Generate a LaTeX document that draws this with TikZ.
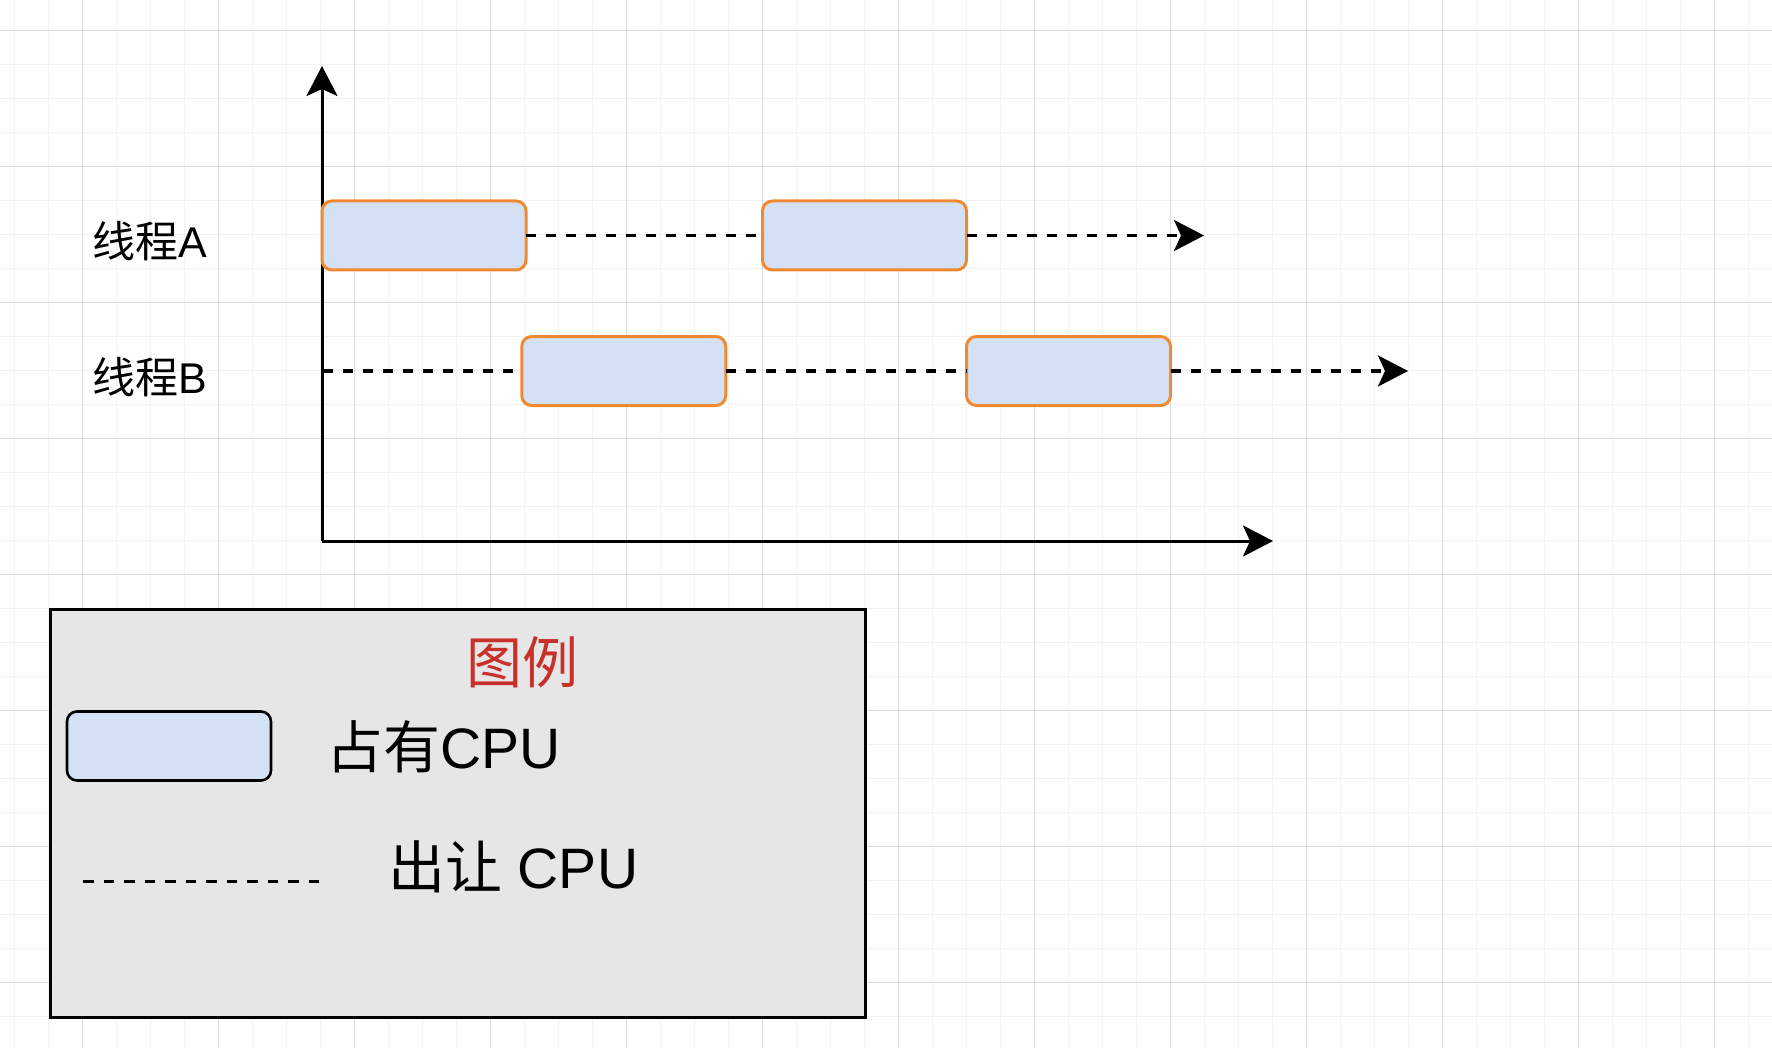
\documentclass[tikz,border=0pt]{standalone}
\usepackage{fontspec}
\setmainfont{Liberation Sans}
\newfontfamily\cjk{Noto Sans CJK SC}
\usetikzlibrary{arrows.meta}
\definecolor{gridminor}{HTML}{F2F2F2}
\definecolor{gridmajor}{HTML}{DADADA}
\definecolor{boxfill}{HTML}{D4E1F5}
\definecolor{boxline}{HTML}{F08A32}
\definecolor{legfill}{HTML}{E6E6E6}
\definecolor{legred}{HTML}{C8302A}
\tikzset{
  cpubox/.style={draw=boxline, fill=boxfill, line width=1.5pt, rounded corners=5pt,
    minimum width=102pt, minimum height=34.5pt, inner sep=0pt, outer sep=0pt},
  legbox/.style={cpubox, draw=black, line width=1.3pt},
  yieldline/.style={line width=1.7pt, dash pattern=on 5pt off 5pt},
  axisline/.style={line width=1.5pt},
  tipstyle/.style={-{Stealth[length=15pt, width=15.5pt, inset=3.5pt]}},
  lbl/.style={inner sep=0pt, outer sep=0pt, anchor=west, font=\fontsize{21.5pt}{26pt}\selectfont},
  bigtxt/.style={inner sep=0pt, outer sep=0pt, font=\fontsize{28.5pt}{32pt}\selectfont}
}
\begin{document}
\begin{tikzpicture}[x=0.5pt, y=-0.5pt]
\useasboundingbox (0,0) rectangle (1772,1048);
\clip (0,0) rectangle (1772,1048);
\fill[white] (0,0) rectangle (1772,1048);
% grid
\foreach \i in {0,...,52} {
  \draw[gridminor, line width=0.75pt] ({14.7+34*\i},0) -- ({14.7+34*\i},1048);
}
\foreach \i in {0,...,31} {
  \draw[gridminor, line width=0.75pt] (0,{-3.3+34*\i}) -- (1772,{-3.3+34*\i});
}
\foreach \i in {0,...,12} {
  \draw[gridmajor, line width=0.75pt] ({82.7+136*\i},0) -- ({82.7+136*\i},1048);
}
\foreach \i in {0,...,7} {
  \draw[gridmajor, line width=0.75pt] (0,{30.7+136*\i}) -- (1772,{30.7+136*\i});
}
% axes
\coordinate (O) at (322,541);
\coordinate (ytip) at (322,66);
\coordinate (xtip) at (1273,541);
\draw[axisline, tipstyle] (O) -- (ytip);
\draw[axisline, tipstyle] (O) -- (xtip);
% thread labels
\node[lbl] (la) at (92,241) {{\cjk 线程}A};
\node[lbl] (lb) at (92,377) {{\cjk 线程}B};
% boxes
\node[cpubox] (b1) at (424,235.5) {};
\node[cpubox] (b2) at (864.5,235.5) {};
\node[cpubox] (b3) at (623.75,371) {};
\node[cpubox] (b4) at (1068.5,371) {};
\coordinate (tipA) at (1204,235.5);
\coordinate (startB) at (323,371);
\coordinate (tipB) at (1408,371);
\draw[yieldline] (b1.east) -- (b2.west);
\draw[yieldline, tipstyle] (b2.east) -- (tipA);
\draw[yieldline] (startB) -- (b3.west);
\draw[yieldline] (b3.east) -- (b4.west);
\draw[yieldline, tipstyle] (b4.east) -- (tipB);
% legend
\node[draw=black, fill=legfill, line width=1.5pt, minimum width=407.85pt, minimum height=204pt,
  inner sep=0pt] (legend) at (457.85,813) {};
\node[bigtxt, text=legred, font=\cjk\fontsize{28pt}{32pt}\selectfont] (title) at (522,662) {图例};
\node[legbox] (sample) at (169,746) {};
\node[bigtxt, anchor=west] (occ) at (326,747) {{\cjk 占有}CPU};
\coordinate (d1) at (83,881);
\coordinate (d2) at (319,881);
\draw[line width=1.5pt, dash pattern=on 5.25pt off 5pt] (d1) -- (d2);
\node[bigtxt, anchor=west] (yld) at (388,867) {{\cjk 出让} CPU};
\end{tikzpicture}
\end{document}
